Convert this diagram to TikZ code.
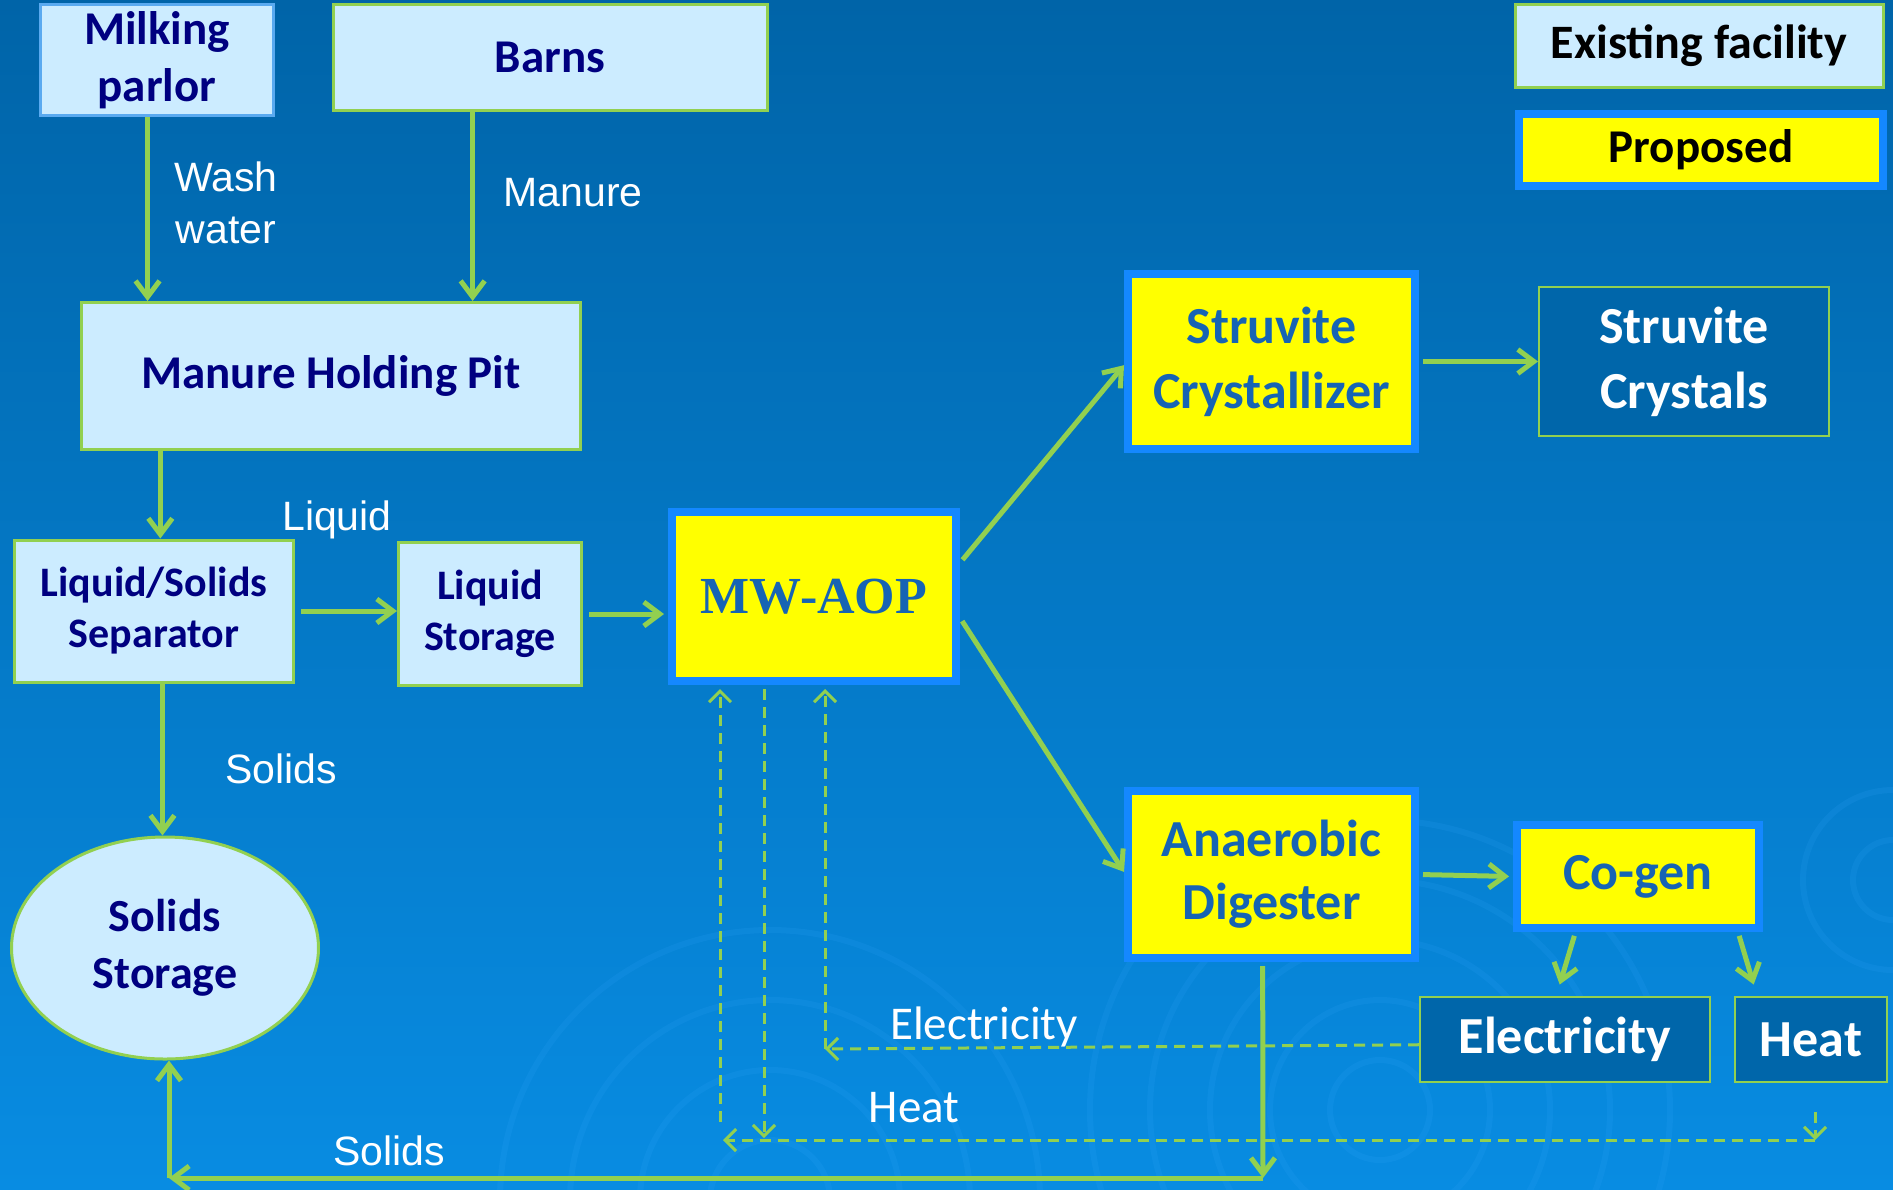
\documentclass[tikz,border=0pt]{standalone}
\usepackage{fontspec}
\setmainfont{Carlito}
\newfontfamily\arialf{Liberation Sans}
\newfontfamily\serifb{Liberation Serif}
\usetikzlibrary{arrows.meta,calc,shapes.geometric}
\definecolor{bgtop}{RGB}{0,100,168}
\definecolor{bgmid}{RGB}{0,112,190}
\definecolor{bgbot}{RGB}{8,140,226}
\definecolor{lightbox}{RGB}{204,236,255}
\definecolor{grn}{RGB}{146,208,80}
\definecolor{navy}{RGB}{0,0,128}
\definecolor{propborder}{RGB}{20,136,255}
\definecolor{proptext}{RGB}{22,100,180}
\definecolor{darkbox}{RGB}{0,102,170}
\definecolor{skyborder}{RGB}{90,170,240}
\definecolor{ripple}{RGB}{60,170,255}
\definecolor{yel}{RGB}{255,255,0}
\tikzset{
 exist/.style={draw=grn, line width=1.5pt, fill=lightbox, text=navy, font=\bfseries\fontsize{23.5}{28.5}\selectfont, align=center, inner sep=0pt},
 prop/.style={draw=propborder, line width=4pt, fill=yel, text=proptext, font=\bfseries\fontsize{26}{32}\selectfont, align=center, inner sep=0pt},
 outbox/.style={draw=grn, line width=1pt, fill=darkbox, text=white, font=\bfseries\fontsize{26}{32.5}\selectfont, align=center, inner sep=0pt},
 lbl/.style={text=white, font=\arialf\fontsize{20.5}{26}\selectfont, align=center, inner sep=0pt},
 lblc/.style={text=white, font=\fontsize{23.5}{28}\selectfont, inner sep=0pt},
 arr/.style={draw=grn, line width=2.5pt, -{Straight Barb[length=8pt,width=12pt]}},
 darr/.style={draw=grn, line width=1.5pt, dash pattern=on 5.5pt off 3.5pt, -{Straight Barb[length=5.5pt,width=11pt]}},
 rip/.style={draw=ripple, line width=3pt, opacity=0.13},
}
\begin{document}
\begin{tikzpicture}[x=0.5pt,y=-0.5pt]
\useasboundingbox (0,0) rectangle (1893,1189);
\shade[top color=bgtop, middle color=bgmid, bottom color=bgbot] (0,0) rectangle (1893,1189);
\begin{scope}
\clip (0,0) rectangle (1893,1189);
\foreach \r in {60,130,200,270} \draw[rip] (770,1200) circle (\r);
\foreach \r in {50,110,170,230,290} \draw[rip] (1380,1110) circle (\r);
\foreach \r in {40,90} \draw[rip] (1893,880) circle (\r);
\end{scope}

% existing facilities
\node[exist, draw=skyborder, minimum width=116.5pt, minimum height=55.5pt] (milk) at (157,60) {Milking\\parlor};
\node[exist, minimum width=217pt, minimum height=53pt] (barns) at (550,57) {Barns};
\node[exist, minimum width=249.5pt, minimum height=73.5pt] (pit) at (331,376) {Manure Holding Pit};
\node[exist, font=\bfseries\fontsize{21}{25.5}\selectfont, minimum width=139.5pt, minimum height=71pt] (sep) at (154,611) {Liquid/Solids\\Separator};
\node[exist, font=\bfseries\fontsize{21}{25.5}\selectfont, minimum width=91.5pt, minimum height=71.5pt] (lst) at (490,614) {Liquid\\Storage};
\node[exist, ellipse, font=\bfseries\fontsize{23}{28.5}\selectfont, minimum width=153.5pt, minimum height=111pt] (solids) at (165,948) {Solids\\Storage};

% proposed
\node[prop, font=\serifb\bfseries\fontsize{26}{30}\selectfont, minimum width=142pt, minimum height=84.5pt] (aop) at (814,596.5) {MW-AOP};
\node[prop, font=\bfseries\fontsize{26}{32.5}\selectfont, minimum width=143.5pt, minimum height=87.5pt] (scr) at (1271.5,361.5) {Struvite\\Crystallizer};
\node[prop, font=\bfseries\fontsize{26}{31.5}\selectfont, minimum width=143.5pt, minimum height=83.5pt] (ad) at (1271.5,874.5) {Anaerobic\\Digester};
\node[prop, minimum width=121pt, minimum height=51.5pt] (cogen) at (1638,876.5) {Co-gen};

% outputs
\node[outbox, minimum width=145pt, minimum height=74.5pt] (sxtal) at (1684,361.5) {Struvite\\Crystals};
\node[outbox, minimum width=145pt, minimum height=42.5pt] (elec) at (1565,1039.5) {Electricity};
\node[outbox, minimum width=76pt, minimum height=42.5pt] (heat) at (1811,1039.5) {Heat};

% legend
\node[exist, text=black, font=\bfseries\fontsize{24}{28}\selectfont, minimum width=184pt, minimum height=41.5pt] (leg1) at (1699,45.5) {Existing facility};
\node[prop, text=black, font=\bfseries\fontsize{23.5}{28}\selectfont, minimum width=182pt, minimum height=36pt] (leg2) at (1701,150) {Proposed};

% labels
\node[lbl] (lwash) at (226,203) {Wash\\water};
\node[lbl] (lmanure) at (573,193) {Manure};
\node[lbl] (lliquid) at (337,520) {Liquid};
\node[lbl] (lsolids1) at (281,769) {Solids};
\node[lbl] (lsolids2) at (389,1151) {Solids};
\node[lblc] (lelec) at (984,1027) {Electricity};
\node[lblc] (lheat) at (914,1108) {Heat};

% solid arrows
\coordinate (m1) at ($(milk.south west)!0.46!(milk.south east)$);
\draw[arr] (m1) -- (m1 |- pit.north);
\coordinate (b1) at ($(barns.south west)!0.323!(barns.south east)$);
\draw[arr] (b1) -- (b1 |- pit.north);
\coordinate (p1) at ($(pit.south west)!0.16!(pit.south east)$);
\draw[arr] (p1) -- (p1 |- sep.north);
\draw[arr, shorten <=3pt] (sep.east) -- (sep.east -| lst.west);
\draw[arr, shorten <=3pt, shorten >=2pt] (lst.east) -- (lst.east -| aop.west);
\coordinate (s1) at ($(sep.south west)!0.53!(sep.south east)$);
\draw[arr] (s1) -- (s1 |- solids.north);
\draw[arr, shorten <=2pt] ($(aop.north east)!0.31!(aop.south east)$) -- ($(scr.north west)!0.52!(scr.south west)$);
\draw[arr, shorten <=2pt] (scr.east) -- (sxtal.west);
\draw[arr, shorten <=2pt] ($(aop.north east)!0.62!(aop.south east)$) -- ($(ad.north west)!0.485!(ad.south west)$);
\draw[arr, shorten <=2pt, shorten >=2pt] (ad.east) -- (cogen.west);
\draw[arr, shorten <=2pt, shorten >=6pt] ($(cogen.south west)!0.25!(cogen.south east)$) -- ($(elec.north west)!0.47!(elec.north east)$);
\draw[arr, shorten <=2pt, shorten >=6pt] ($(cogen.south west)!0.9!(cogen.south east)$) -- ($(heat.north west)!0.15!(heat.north east)$);
\coordinate (sb) at (1263,1178);
\coordinate (sa) at (169,1178);
\coordinate (a1) at ($(ad.south west)!0.47!(ad.south east)$);
\draw[arr, shorten <=2pt] (a1) -- (sb);
\draw[arr] (sb) -- (sa);
\draw[arr] (sa) -- (sa |- solids.south);

% dashed energy lines
\coordinate (ec) at (825,1049);
\draw[darr] ($(elec.north west)!0.56!(elec.south west)$) -- (ec);
\draw[darr, shorten >=2pt] (ec) -- (ec |- aop.south);
\coordinate (ht) at (1815,1112);
\coordinate (hb) at (1815,1140);
\coordinate (hl) at (723,1140);
\coordinate (hv) at (720,1122);
\coordinate (hm) at (764,1138);
\draw[darr] (ht) -- (hb);
\draw[darr] (hb) -- (hl);
\draw[darr, shorten >=2pt] (hv) -- (hv |- aop.south);
\draw[darr, shorten <=2pt] (hm |- aop.south) -- (hm);
\end{tikzpicture}
\end{document}
